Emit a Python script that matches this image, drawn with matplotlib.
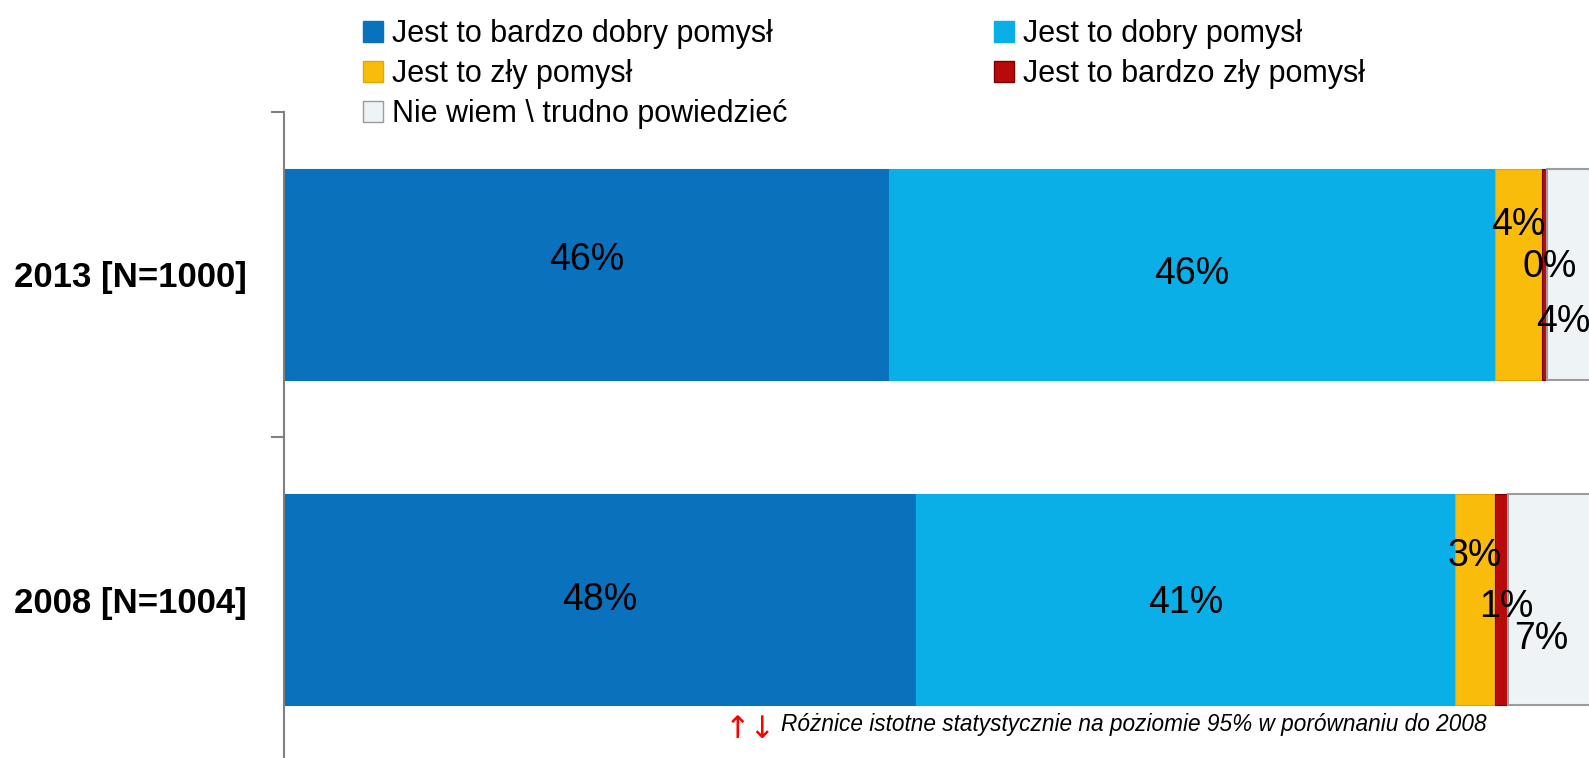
import matplotlib
matplotlib.use("Agg")
import matplotlib.pyplot as plt
from matplotlib.patches import Patch
import numpy as np

# ---- data ----
categories = ["2013 [N=1000]", "2008 [N=1004]"]
series_names = ["Jest to bardzo dobry pomysł", "Jest to dobry pomysł",
                "Jest to zły pomysł", "Jest to bardzo zły pomysł",
                "Nie wiem \\ trudno powiedzieć"]
values = {
    "Jest to bardzo dobry pomysł": [46.0, 48.0],
    "Jest to dobry pomysł": [46.0, 41.0],
    "Jest to zły pomysł": [3.6, 3.0],
    "Jest to bardzo zły pomysł": [0.4, 1.0],
    "Nie wiem \\ trudno powiedzieć": [4.0, 7.0],
}
footnote = "Różnice istotne statystycznie na poziomie 95% w porównaniu do 2008"

# ---- styles ----
colors = ["#0A71BD", "#0AAFE8", "#F9BC0A", "#B80A0A", "#EEF3F6"]
edgecols = ["#0A71BD", "#0AAFE8", "#E0A800", "#7A0000", "#9C9C9C"]
# label offsets (in category units) to mimic staggered labels
label_dy = [[-0.044, 0.0, -0.153, -0.022, 0.146],
            [0.0, 0.012, -0.134, 0.022, 0.122]]
label_dx = [[0.0, 0.0, 0.0, 0.4, -0.8],
            [0.0, 0.0, 0.0, 0.4, -1.0]]

SANS = ["Liberation Sans", "DejaVu Sans"]

fig = plt.figure(figsize=(15.89, 7.58), dpi=100)
ax = fig.add_axes([284 / 1589, -4 / 758, 1316 / 1589, 650 / 758])

y = np.arange(len(categories))
left = np.zeros(len(categories))
handles = []
for i, name in enumerate(series_names):
    vals = np.array(values[name])
    ax.barh(y, vals, left=left, height=0.65, color=colors[i],
            edgecolor=edgecols[i], linewidth=1.5 if i == 4 else 0.8)
    for j, v in enumerate(vals):
        ax.text(left[j] + v / 2 + label_dx[j][i], y[j] + label_dy[j][i],
                f"{int(round(v))}%", ha="center", va="center",
                fontsize=27, family=SANS, color="black")
    handles.append(Patch(facecolor=colors[i], edgecolor=edgecols[i], linewidth=1))
    left = left + vals

ax.set_xlim(0, 100)
ax.set_ylim(1.5, -0.5)
ax.set_yticks(y)
ax.set_yticklabels(categories, fontsize=25, fontweight="bold", family=SANS)
ax.tick_params(axis="y", which="major", length=0, pad=27)
ax.set_yticks([-0.5, 0.5, 1.5], minor=True)
ax.tick_params(axis="y", which="minor", length=9.5, width=1.5, color="#808080")
ax.set_xticks([])
for s in ["top", "right", "bottom"]:
    ax.spines[s].set_visible(False)
ax.spines["left"].set_color("#808080")
ax.spines["left"].set_linewidth(1.5)

order = [0, 2, 4, 1, 3]
leg = fig.legend([handles[k] for k in order], [series_names[k] for k in order],
                 ncol=2, loc="upper left", bbox_to_anchor=(348 / 1589, 0.995),
                 frameon=False, prop={"family": SANS, "size": 22},
                 handlelength=0.65, handleheight=0.65, handletextpad=0.3,
                 labelspacing=0.33, columnspacing=6.75, borderpad=0)

fig.text(725 / 1589, 1 - 730 / 758, "↑↓", color="red", fontsize=22,
         family=["DejaVu Sans"], ha="left", va="center")
fig.text(781 / 1589, 1 - 724 / 758, footnote, color="black", fontsize=16.3,
         family=SANS, style="italic", ha="left", va="center")

fig.savefig("out.png", dpi=100)
